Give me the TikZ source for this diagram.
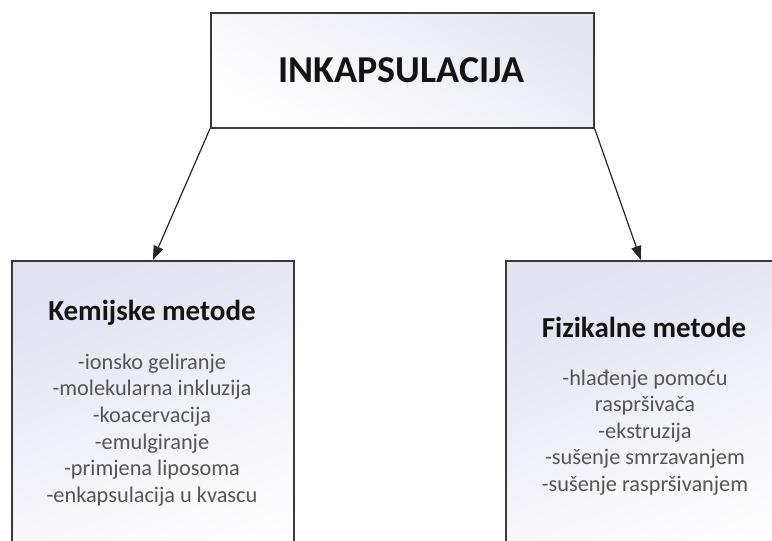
\documentclass[tikz,border=0pt]{standalone}
\usepackage{fontspec}
\setmainfont{Carlito}
\usetikzlibrary{arrows.meta}
\definecolor{lav}{HTML}{E2E2F1}
\definecolor{edge}{HTML}{3A3A3A}
\definecolor{listgray}{HTML}{555555}
\definecolor{headblack}{HTML}{141414}
\tikzset{
  box/.style={draw=edge, line width=1.7pt, top color=lav, bottom color=white, shading angle=20, inner sep=0pt},
  head/.style={font=\bfseries\fontsize{29}{32}\selectfont, text=headblack},
  items/.style={font=\fontsize{22.3}{26.6}\selectfont, text=listgray, align=center},
  conn/.style={draw=black!85, line width=1.2pt, -{Triangle[length=14pt,width=10pt]}}
}
\begin{document}
\begin{tikzpicture}[x=1pt,y=-1pt]
\useasboundingbox (0,0) rectangle (772,541);
\clip (0,0) rectangle (772,541);
\node[box, anchor=north west, minimum width=383pt, minimum height=115pt, top color=lav!85, bottom color=white, shading angle=-30] (top) at (210,12) {};
\node[font=\bfseries\fontsize{38}{42}\selectfont, text=headblack] (toptext) at (401.5,70) {INKAPSULACIJA};
\node[box, anchor=north west, minimum width=282pt, minimum height=320pt] (left) at (11,260) {};
\node[box, anchor=north west, minimum width=270pt, minimum height=320pt] (right) at (505,260) {};
\node[head] (lh) at (152,313) {Kemijske metode};
\node[items] (ll) at (152,430) {-ionsko geliranje\\-molekularna inkluzija\\-koacervacija\\-emulgiranje\\-primjena liposoma\\-enkapsulacija u kvascu};
\node[head] (rh) at (644,327) {Fizikalne metode};
\node[items] (rl) at (645,432.5) {-hlađenje pomoću\\raspršivača\\-ekstruzija\\-sušenje smrzavanjem\\-sušenje raspršivanjem};
\draw[conn] (top.south west) -- (left.north);
\draw[conn] (top.south east) -- (right.north);
\end{tikzpicture}
\end{document}
